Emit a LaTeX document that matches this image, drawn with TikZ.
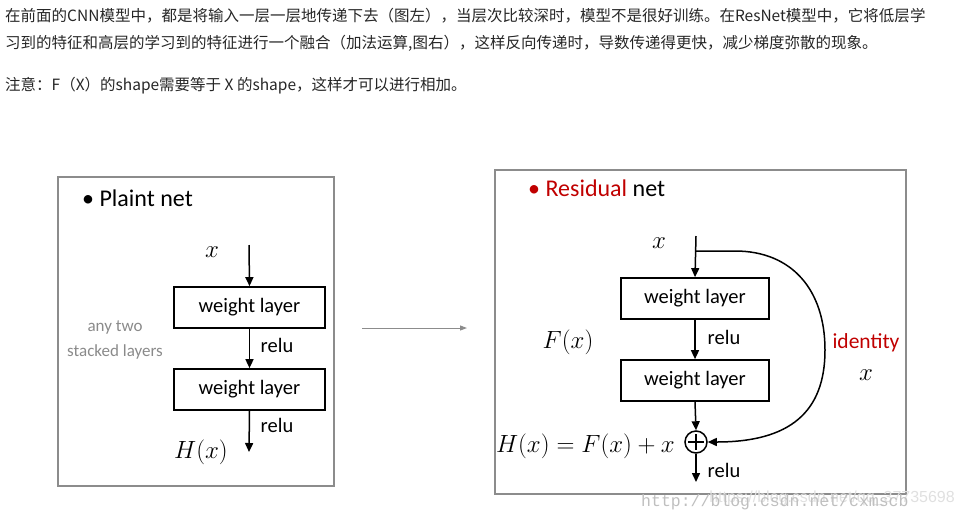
\documentclass[tikz,border=0pt]{standalone}
\usepackage{fontspec}
\usetikzlibrary{arrows.meta}
\newfontfamily\cjk{Noto Sans CJK SC}
\newfontfamily\carl{Carlito}
\newfontfamily\wmono{Liberation Mono}
\newfontfamily\wsans{Liberation Sans}
\definecolor{resred}{HTML}{C00000}
\definecolor{framegray}{HTML}{8C8C8C}
\definecolor{txtgray}{HTML}{8A8A8A}
\begin{document}
\begin{tikzpicture}[x=1pt,y=-1pt,
  cjktext/.style={anchor=base west, inner sep=0, font=\cjk\fontsize{15.5}{18}\selectfont, text=black!85},
  frm/.style={draw=framegray, line width=1.5pt, anchor=north west, inner sep=0},
  wbox/.style={draw, line width=1.7pt, minimum width=151pt, minimum height=41pt, inner sep=0, font=\carl\fontsize{20.5}{24}\selectfont},
  lbl/.style={inner sep=0, font=\carl\fontsize{20.5}{24}\selectfont},
  ttl/.style={inner sep=0, anchor=west, font=\carl\fontsize{24}{28}\selectfont},
  mth/.style={inner sep=0, font=\fontsize{25.5}{30}\selectfont},
  arr/.style={line width=1.5pt, -{Triangle[length=9pt,width=8pt]}},
  garr/.style={line width=1pt, draw=framegray, -{Triangle[length=7pt,width=5pt]}}]
\useasboundingbox (0,0) rectangle (963,515);
% text above
\node[cjktext] (t1) at (5,21) {在前面的CNN模型中，都是将输入一层一层地传递下去（图左），当层次比较深时，模型不是很好训练。在ResNet模型中，它将低层学};
\node[cjktext] (t2) at (5,48) {习到的特征和高层的学习到的特征进行一个融合（加法运算,图右），这样反向传递时，导数传递得更快，减少梯度弥散的现象。};
\node[cjktext] (t3) at (5,90) {注意：F（X）的shape需要等于 X 的shape，这样才可以进行相加。};
% left frame
\node[frm, minimum width=276pt, minimum height=309pt] (lf) at (57,176) {};
\node[ttl] (pt) at (82,198) {\textbullet\ Plaint net};
\node[mth] (lx) at (212,252) {$x$};
\coordinate (ls) at (249,245);
\node[wbox] (lb1) at (249.5,307.5) {weight layer};
\node[wbox] (lb2) at (249.5,389.5) {weight layer};
\coordinate (le) at (249,452);
\draw[arr] (ls) -- (lb1.north);
\draw[arr] (lb1.south) -- (lb2.north);
\draw[arr] (lb2.south) -- (le);
\node[lbl] (lr1) at (277,345) {relu};
\node[lbl] (lr2) at (277,425) {relu};
\node[mth] (lh) at (201,452) {$H(x)$};
\node[inner sep=0, align=center, text=txtgray, font=\carl\fontsize{17}{25}\selectfont] (any) at (115,340) {any two\\stacked layers};
% middle arrow
\coordinate (ma) at (362,328);
\coordinate (mb) at (467,328);
\draw[garr] (ma) -- (mb);
% right frame
\node[frm, minimum width=411pt, minimum height=324pt] (rf) at (494,169) {};
\node[ttl] (rt) at (528,188) {\textcolor{resred}{\textbullet\ Residual} net};
\node[mth] (rx) at (659,243) {$x$};
\coordinate (rs) at (696,236);
\node[wbox, minimum width=148pt] (rb1) at (695,298.5) {weight layer};
\node[wbox, minimum width=148pt] (rb2) at (695,380.5) {weight layer};
\node[circle, draw, line width=1.5pt, minimum size=22pt, inner sep=0] (plus) at (696,442) {};
\draw[line width=1.5pt] ([yshift=-4pt]plus.north) -- ([yshift=4pt]plus.south);
\draw[line width=1.5pt] ([xshift=4pt]plus.west) -- ([xshift=-4pt]plus.east);
\coordinate (re) at (696,482);
\draw[arr] (rs) -- (rb1.north);
\draw[arr] (rb1.south) -- (rb2.north);
\draw[arr] (rb2.south) -- (plus.north);
\draw[arr] (plus.south) -- (re);
\node[lbl] (rr1) at (724,337) {relu};
\node[lbl] (rr2) at (724,470) {relu};
\node[mth] (fx) at (568,342) {$F(x)$};
\node[mth, anchor=east] (hx) at (675,446) {$H(x)=F(x)+x$};
\node[lbl, text=resred, font=\carl\fontsize{21.5}{24}\selectfont] (idt) at (866,343) {identity};
\node[mth] (idx) at (866,375) {$x$};
\coordinate (rc) at (696,251);
\coordinate (rc2) at (735,251);
\coordinate (rm) at (825,350);
\draw[arr] (rs |- rc) -- (rc2) .. controls (792,251) and (825,290) .. (rm) .. controls (825,412) and (790,442) .. (plus.east);
% watermark
\node[inner sep=0, anchor=base east, text=black!12, font=\wsans\fontsize{16}{18}\selectfont] (wm2) at (955,502) {https://blog.csdn.net/qq\_37735698};
\node[inner sep=0, anchor=base west, text=black!25, font=\wmono\fontsize{16.5}{18}\selectfont] (wm1) at (641,506) {http://blog.csdn.net/cxmscb};
\end{tikzpicture}
\end{document}
